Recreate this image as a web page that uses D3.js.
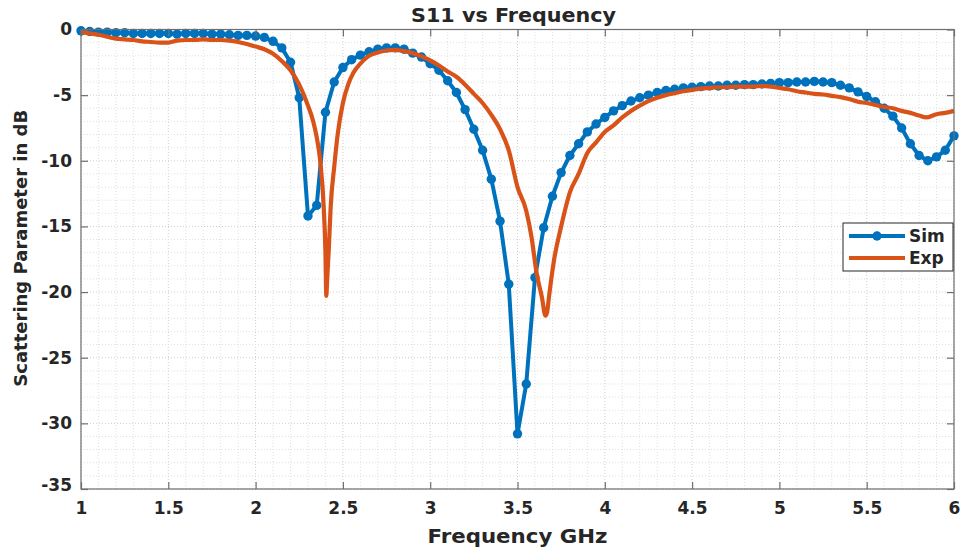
<!DOCTYPE html>
<html>
<head>
<meta charset="utf-8">
<script src="https://cdn.jsdelivr.net/npm/d3@7"></script>
<style>
    body { margin: 0; background: #fff; }
    text { font-family: "DejaVu Sans", sans-serif; font-weight: bold; fill: #262626; }
</style>
</head>
<body>
<svg class="chart"></svg>
<script>
// simulated S11, one point every 0.05 GHz from 1 to 6
let sim_freq = d3.range(0, 101).map(i => +(1 + i * 0.05).toFixed(2))
let sim_db = [
    -0.1, -0.15, -0.2, -0.2, -0.25, -0.25, -0.3, -0.3, -0.3, -0.3,
    -0.3, -0.35, -0.3, -0.3, -0.3, -0.35, -0.35, -0.4, -0.45, -0.45,
    -0.5, -0.6, -0.9, -1.4, -2.5, -5.2, -14.2, -13.4, -6.3, -4.0,
    -2.9, -2.3, -1.95, -1.7, -1.5, -1.4, -1.4, -1.5, -1.8, -2.1,
    -2.6, -3.1, -3.9, -4.8, -6.1, -7.6, -9.2, -11.4, -14.6, -19.4,
    -30.8, -27.0, -18.9, -15.1, -12.7, -10.9, -9.6, -8.7, -7.8, -7.2,
    -6.7, -6.2, -5.8, -5.45, -5.2, -5.0, -4.8, -4.65, -4.55, -4.45,
    -4.4, -4.35, -4.3, -4.3, -4.25, -4.25, -4.2, -4.2, -4.15, -4.1,
    -4.05, -4.05, -4.0, -4.0, -3.95, -4.0, -4.05, -4.25, -4.45, -4.75,
    -5.1, -5.5, -6.0, -6.6, -7.5, -8.7, -9.6, -10.0, -9.7, -9.2,
    -8.1
]

// measured S11
let exp_freq = [
    1.00, 1.05, 1.10, 1.15, 1.20, 1.25, 1.30, 1.35, 1.40, 1.45,
    1.50, 1.55, 1.60, 1.65, 1.70, 1.75, 1.80, 1.85, 1.90, 1.95,
    2.00, 2.05, 2.10, 2.15, 2.20, 2.25, 2.30, 2.33, 2.35, 2.37,
    2.39, 2.40, 2.405, 2.41, 2.42, 2.43, 2.45, 2.47, 2.50, 2.53,
    2.56, 2.60, 2.65, 2.70, 2.75, 2.80, 2.85, 2.90, 2.95, 3.00,
    3.05, 3.10, 3.15, 3.20, 3.25, 3.30, 3.35, 3.40, 3.45, 3.50,
    3.55, 3.58, 3.61, 3.64, 3.66, 3.67, 3.68, 3.71, 3.75, 3.80,
    3.85, 3.90, 3.95, 4.00, 4.05, 4.10, 4.15, 4.20, 4.25, 4.30,
    4.35, 4.40, 4.45, 4.50, 4.55, 4.60, 4.65, 4.70, 4.75, 4.80,
    4.85, 4.90, 4.95, 5.00, 5.05, 5.10, 5.15, 5.20, 5.25, 5.30,
    5.35, 5.40, 5.45, 5.50, 5.55, 5.60, 5.65, 5.70, 5.75, 5.80,
    5.84, 5.90, 5.95, 6.00
]
let exp_db = [
    -0.2, -0.3, -0.4, -0.55, -0.7, -0.75, -0.8, -0.9, -0.95, -1.0,
    -1.0, -0.85, -0.8, -0.8, -0.75, -0.8, -0.8, -0.85, -0.95, -1.1,
    -1.3, -1.5, -1.85, -2.4, -3.1, -4.2, -5.8, -7.0, -8.2, -10.0,
    -13.5, -17.0, -20.3, -19.0, -16.5, -13.5, -10.5, -8.0, -5.6, -4.2,
    -3.3, -2.6, -2.0, -1.75, -1.6, -1.55, -1.65, -1.8, -2.05, -2.35,
    -2.75, -3.2, -3.6, -4.2, -4.9, -5.6, -6.5, -7.6, -9.2, -12.0,
    -13.8, -15.8, -18.6, -20.4, -21.8, -21.5, -20.4, -17.5, -15.0, -12.4,
    -11.0, -9.4, -8.6, -7.8, -7.3, -6.7, -6.2, -5.8, -5.45, -5.2,
    -5.0, -4.85, -4.7, -4.6, -4.5, -4.45, -4.4, -4.4, -4.35, -4.35,
    -4.35, -4.3, -4.35, -4.45, -4.55, -4.7, -4.8, -4.9, -4.95, -5.05,
    -5.15, -5.3, -5.5, -5.6, -5.75, -5.9, -6.0, -6.2, -6.35, -6.55,
    -6.7, -6.45, -6.35, -6.2
]

let x_ticks = [1, 1.5, 2, 2.5, 3, 3.5, 4, 4.5, 5, 5.5, 6]
let y_ticks = [0, -5, -10, -15, -20, -25, -30, -35]
let series_names = ["Sim", "Exp"]

let width = 962
let height = 554
let margin = {left: 81, right: 8, top: 29.5, bottom: 65}

let blue = "#0072BD"
let orange = "#D95319"

let svg = d3.select(".chart")
    .attr("width", width)
    .attr("height", height)

let x = d3.scaleLinear()
    .domain([1, 6])
    .range([margin.left, width - margin.right])

let y = d3.scaleLinear()
    .domain([-35, 0])
    .range([height - margin.bottom, margin.top])

// plain hyphen for negatives, like the original
let fmt = d => String(d)

function draw_grid() {
    let g = svg.append("g").attr("class", "grid")
    let xs = d3.range(10, 61).map(d => d / 10)
    let ys = d3.range(-35, 1)
    g.selectAll("line.vx")
        .data(xs)
        .enter().append("line")
        .attr("x1", d => x(d)).attr("x2", d => x(d))
        .attr("y1", y(-35)).attr("y2", y(0))
        .attr("stroke", d => x_ticks.includes(d) ? "#cfcfcf" : "#e0e0e0")
        .attr("stroke-width", 1)
        .attr("stroke-dasharray", "1,2")
    g.selectAll("line.hy")
        .data(ys)
        .enter().append("line")
        .attr("y1", d => y(d)).attr("y2", d => y(d))
        .attr("x1", x(1)).attr("x2", x(6))
        .attr("stroke", d => y_ticks.includes(d) ? "#cfcfcf" : "#e0e0e0")
        .attr("stroke-width", 1)
        .attr("stroke-dasharray", "1,2")
}

function draw_axes() {
    let tick_len = 7
    let axis_color = "#6e6e6e"

    // box
    svg.append("rect")
        .attr("x", x(1)).attr("y", y(0))
        .attr("width", x(6) - x(1)).attr("height", y(-35) - y(0))
        .attr("fill", "none")
        .attr("stroke", axis_color)
        .attr("stroke-width", 1.2)

    let bottom = d3.axisBottom(x).tickValues(x_ticks).tickSize(-tick_len).tickFormat(fmt)
    let top = d3.axisTop(x).tickValues(x_ticks).tickSize(-tick_len).tickFormat("")
    let left = d3.axisLeft(y).tickValues(y_ticks).tickSize(-tick_len).tickFormat(fmt)
    let right = d3.axisRight(y).tickValues(y_ticks).tickSize(-tick_len).tickFormat("")

    let gb = svg.append("g").attr("transform", `translate(0,${y(-35)})`).call(bottom)
    let gt = svg.append("g").attr("transform", `translate(0,${y(0)})`).call(top)
    let gl = svg.append("g").attr("transform", `translate(${x(1)},0)`).call(left)
    let gr = svg.append("g").attr("transform", `translate(${x(6)},0)`).call(right)

    ;[gb, gt, gl, gr].forEach(g => {
        g.select(".domain").remove()
        g.selectAll(".tick line").attr("stroke", axis_color).attr("stroke-width", 1.2)
    })

    gb.selectAll(".tick text")
        .attr("y", 13)
        .attr("dy", "0.71em")
        .style("font-size", "17px")
        .attr("fill", "#262626")
    gl.selectAll(".tick text")
        .attr("x", -9)
        .style("font-size", "17px")
        .attr("fill", "#262626")
    gl.selectAll(".tick")
        .filter(d => d == -35)
        .select("text").attr("dy", "0.1em")
}

function draw_series() {
    let line = d3.line()
        .x(d => x(d[0]))
        .y(d => y(d[1]))

    let sim_pts = d3.zip(sim_freq, sim_db)
    let exp_pts = d3.zip(exp_freq, exp_db)

    let plot = svg.append("g")

    plot.append("path")
        .datum(sim_pts)
        .attr("d", line)
        .attr("fill", "none")
        .attr("stroke", blue)
        .attr("stroke-width", 4)
        .attr("stroke-linejoin", "round")

    plot.selectAll("circle.sim")
        .data(sim_pts)
        .enter().append("circle")
        .attr("cx", d => x(d[0]))
        .attr("cy", d => y(d[1]))
        .attr("r", 4.7)
        .attr("fill", blue)

    plot.append("path")
        .datum(exp_pts)
        .attr("d", d3.line().x(d => x(d[0])).y(d => y(d[1])).curve(d3.curveMonotoneX))
        .attr("fill", "none")
        .attr("stroke", orange)
        .attr("stroke-width", 4.2)
        .attr("stroke-linejoin", "round")
}

function draw_labels() {
    svg.append("text")
        .attr("x", (x(1) + x(6)) / 2 - 4)
        .attr("y", 22)
        .attr("text-anchor", "middle")
        .attr("textLength", 205)
        .attr("lengthAdjust", "spacingAndGlyphs")
        .style("font-size", "19px")
        .attr("fill", "#000")
        .text("S11 vs Frequency")

    svg.append("text")
        .attr("x", (x(1) + x(6)) / 2)
        .attr("y", 543)
        .attr("text-anchor", "middle")
        .attr("textLength", 180)
        .attr("lengthAdjust", "spacingAndGlyphs")
        .style("font-size", "19px")
        .text("Frequency GHz")

    svg.append("text")
        .attr("transform", `translate(27,${(y(0) + y(-35)) / 2 - 11}) rotate(-90)`)
        .attr("text-anchor", "middle")
        .style("font-size", "18px")
        .text("Scattering Parameter in dB")
}

function draw_legend() {
    let lx = 843, ly = 223
    let g = svg.append("g").attr("transform", `translate(${lx},${ly})`)
    g.append("rect")
        .attr("width", 110).attr("height", 48)
        .attr("fill", "#fff")
        .attr("stroke", "#262626")
        .attr("stroke-width", 1)

    let colors = [blue, orange]
    let rows = g.selectAll("g.row")
        .data(series_names)
        .enter().append("g")
        .attr("transform", (d, i) => `translate(0,${13 + i * 22})`)

    rows.append("line")
        .attr("x1", 6).attr("x2", 62)
        .attr("stroke", (d, i) => colors[i])
        .attr("stroke-width", 4)
    rows.filter((d, i) => i == 0)
        .append("circle")
        .attr("cx", 34).attr("r", 4.7)
        .attr("fill", blue)
    rows.append("text")
        .attr("x", 66)
        .attr("dy", "0.36em")
        .style("font-size", "17px")
        .attr("fill", "#000")
        .text(d => d)
}

draw_grid()
draw_series()
draw_axes()
draw_labels()
draw_legend()
</script>
</body>
</html>
